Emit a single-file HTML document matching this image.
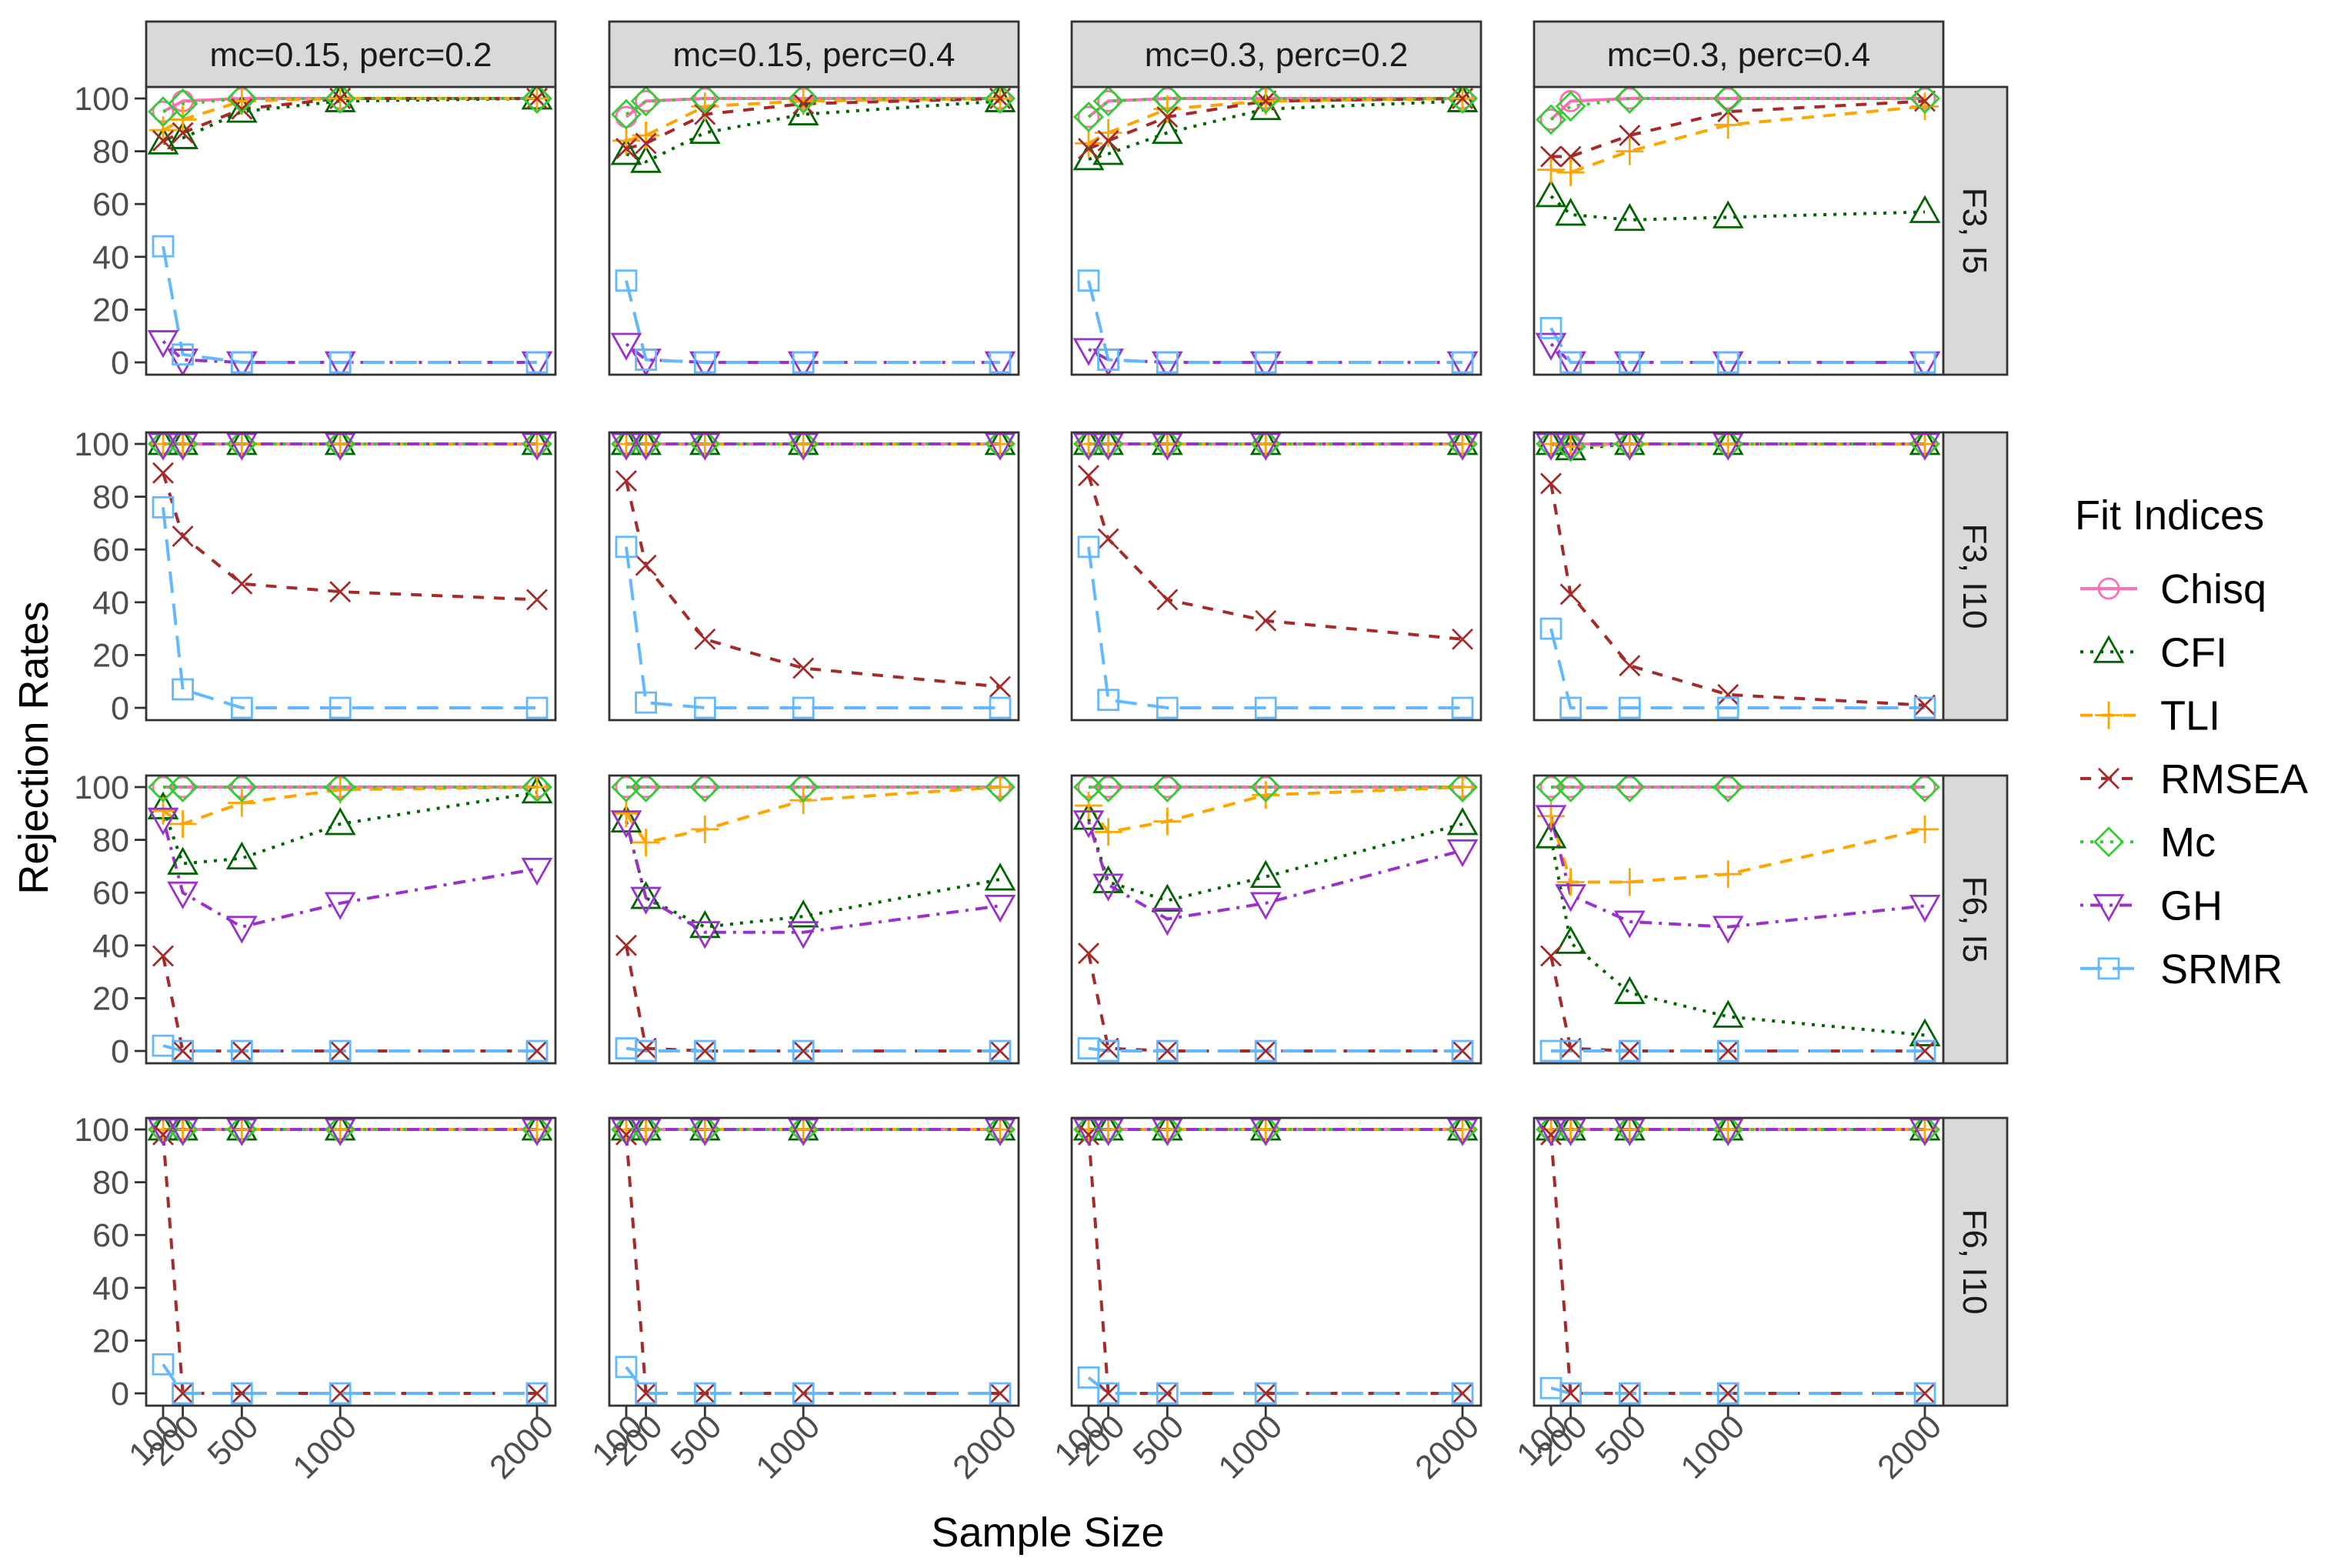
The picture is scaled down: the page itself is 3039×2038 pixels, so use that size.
<!DOCTYPE html>
<html><head><meta charset="utf-8"><style>
html,body{margin:0;padding:0;background:#fff;}
svg{display:block;font-family:"Liberation Sans",Arial,sans-serif;}
</style></head><body>
<svg id="chart" width="3039" height="2038" viewBox="0 0 3039 2038" xmlns="http://www.w3.org/2000/svg">
<g id="panels"></g>
<text x="1362" y="2010" font-size="54" text-anchor="middle" fill="#000">Sample Size</text>
<text transform="translate(62,972) rotate(-90)" font-size="54" text-anchor="middle" fill="#000">Rejection Rates</text>
<g id="legend"></g>
</svg>
<script>
const sampleSizes = [100, 200, 500, 1000, 2000];
const colLabels = ["mc=0.15, perc=0.2", "mc=0.15, perc=0.4", "mc=0.3, perc=0.2", "mc=0.3, perc=0.4"];
const rowLabels = ["F3, I5", "F3, I10", "F6, I5", "F6, I10"];
const yTicks = [0, 20, 40, 60, 80, 100];
const seriesNames = ["Chisq", "CFI", "TLI", "RMSEA", "Mc", "GH", "SRMR"];
const chisq = [
 [95,99,100,100,100],[93,99,100,100,100],[93,99,100,100,100],[92,99,100,100,100],
 [100,100,100,100,100],[100,100,100,100,100],[100,100,100,100,100],[100,100,100,100,100],
 [100,100,100,100,100],[100,100,100,100,100],[100,100,100,100,100],[100,100,100,100,100],
 [100,100,100,100,100],[100,100,100,100,100],[100,100,100,100,100],[100,100,100,100,100]];
const cfi = [
 [83,85,95,99,100],[79,76,87,94,99],[77,79,87,96,99],[63,56,54,55,57],
 [100,100,100,100,100],[100,100,100,100,100],[100,100,100,100,100],[100,98,100,100,100],
 [92,71,73,86,98],[87,58,47,51,65],[88,64,57,66,86],[81,41,22,13,6],
 [100,100,100,100,100],[100,100,100,100,100],[100,100,100,100,100],[100,100,100,100,100]];
const tli = [
 [88,92,99,100,100],[84,86,97,99,100],[83,87,96,99,100],[73,72,80,90,97],
 [100,100,100,100,100],[100,100,100,100,100],[100,100,100,100,100],[100,99,100,100,100],
 [91,86,94,99,100],[90,79,84,95,100],[93,83,87,97,100],[89,64,64,67,84],
 [100,100,100,100,100],[100,100,100,100,100],[100,100,100,100,100],[100,100,100,100,100]];
const rmsea = [
 [84,87,96,100,100],[81,83,94,98,100],[81,84,93,99,100],[78,78,86,95,99],
 [89,65,47,44,41],[86,54,26,15,8],[88,64,41,33,26],[85,43,16,5,1],
 [36,0,0,0,0],[40,1,0,0,0],[37,1,0,0,0],[36,1,0,0,0],
 [98,0,0,0,0],[98,0,0,0,0],[98,0,0,0,0],[98,0,0,0,0]];
const mc = [
 [95,98,100,100,100],[94,99,100,100,100],[93,99,100,100,100],[92,97,100,100,100],
 [100,100,100,100,100],[100,100,100,100,100],[100,100,100,100,100],[100,99,100,100,100],
 [100,100,100,100,100],[100,100,100,100,100],[100,100,100,100,100],[100,100,100,100,100],
 [100,100,100,100,100],[100,100,100,100,100],[100,100,100,100,100],[100,100,100,100,100]];
const gh = [
 [8,1,0,0,0],[7,1,0,0,0],[5,1,0,0,0],[7,0,0,0,0],
 [100,100,100,100,100],[100,100,100,100,100],[100,100,100,100,100],[100,100,100,100,100],
 [88,60,47,56,69],[87,58,45,45,55],[87,63,50,56,76],[89,59,49,47,55],
 [100,100,100,100,100],[100,100,100,100,100],[100,100,100,100,100],[100,100,100,100,100]];
const srmr = [
 [44,3,0,0,0],[31,1,0,0,0],[31,1,0,0,0],[13,0,0,0,0],
 [76,7,0,0,0],[61,2,0,0,0],[61,3,0,0,0],[30,0,0,0,0],
 [2,0,0,0,0],[1,0,0,0,0],[1,0,0,0,0],[0,0,0,0,0],
 [11,0,0,0,0],[10,0,0,0,0],[6,0,0,0,0],[2,0,0,0,0]];

const allSeries = [chisq, cfi, tli, rmsea, mc, gh, srmr];
const styles = [
 {c:"#FF6EB4", dash:"", shape:"circle"},
 {c:"#006400", dash:"4 9", shape:"tri"},
 {c:"#FFA500", dash:"16 12", shape:"plus"},
 {c:"#A52A2A", dash:"14 13", shape:"x"},
 {c:"#32CD32", dash:"4 9", shape:"diamond"},
 {c:"#9932CC", dash:"4 9 16 9", shape:"dtri"},
 {c:"#63B8FF", dash:"28 14", shape:"square"}
];
const NS = "http://www.w3.org/2000/svg";
function el(tag, attrs, parent){ const e=document.createElementNS(NS,tag); for(const k in attrs) e.setAttribute(k,attrs[k]); if(parent) parent.appendChild(e); return e; }

const PL=[190,792,1393,1994], PT=[113,562,1008,1453], PW=532, PH=374;
function xScale(n, left){ return left + 22 + (n-100)*(486/1900); }
function yScale(v, top){ return top + 358 - v*3.43; }

function marker(shape, x, y, c, g){
  const s=18, sw=2.8;
  let m;
  if(shape==="circle") m=el("circle",{cx:x,cy:y,r:13,fill:"none",stroke:c,"stroke-width":sw},g);
  else if(shape==="tri") m=el("polygon",{points:`${x},${y-19} ${x-18},${y+13} ${x+18},${y+13}`,fill:"none",stroke:c,"stroke-width":sw},g);
  else if(shape==="dtri") m=el("polygon",{points:`${x},${y+19} ${x-18},${y-13} ${x+18},${y-13}`,fill:"none",stroke:c,"stroke-width":sw},g);
  else if(shape==="plus") m=el("path",{d:`M${x-s} ${y}H${x+s}M${x} ${y-s}V${y+s}`,stroke:c,"stroke-width":sw,fill:"none"},g);
  else if(shape==="x") m=el("path",{d:`M${x-13} ${y-13}L${x+13} ${y+13}M${x-13} ${y+13}L${x+13} ${y-13}`,stroke:c,"stroke-width":sw,fill:"none"},g);
  else if(shape==="diamond") m=el("polygon",{points:`${x},${y-18} ${x+18},${y} ${x},${y+18} ${x-18},${y}`,fill:"none",stroke:c,"stroke-width":sw},g);
  else if(shape==="square") m=el("rect",{x:x-13,y:y-13,width:26,height:26,fill:"none",stroke:c,"stroke-width":sw},g);
  return m;
}

const root=document.getElementById("panels");
for(let r=0;r<4;r++){
  for(let c=0;c<4;c++){
    const L=PL[c], T=PT[r], idx=r*4+c;
    const g=el("g",{},root);
    
    
    el("rect",{x:L,y:T,width:PW,height:PH,fill:"#fff"},g);
    const clip=el("clipPath",{id:"cp"+idx},g);
    el("rect",{x:L,y:T,width:PW,height:PH},clip);
    const dg=el("g",{"clip-path":"url(#cp"+idx+")"},g);
    allSeries.forEach((ser,si)=>{
      const st=styles[si], vals=ser[idx];
      const pts=vals.map((v,i)=>xScale(sampleSizes[i],L).toFixed(1)+","+yScale(v,T).toFixed(1)).join(" ");
      const line=el("polyline",{points:pts,fill:"none",stroke:st.c,"stroke-width":4,"stroke-dasharray":st.dash},dg);
      
      
    });
    allSeries.forEach((ser,si)=>{
      const st=styles[si], vals=ser[idx];
      vals.forEach((v,i)=>{
        const m=marker(st.shape,xScale(sampleSizes[i],L),yScale(v,T),st.c,dg);
        
        
      });
    });
    el("rect",{x:L,y:T,width:PW,height:PH,fill:"none",stroke:"#333","stroke-width":2.8},g);
    if(r===0){
      const s=el("rect",{x:L,y:28,width:PW,height:T-28,fill:"#d9d9d9",stroke:"#333","stroke-width":2.8},g);
      
      
      const t=el("text",{x:L+PW/2,y:86,"font-size":44,"text-anchor":"middle",fill:"#1a1a1a"},g);
      t.textContent=colLabels[c];
      
      
    }
    if(c===3){
      const s=el("rect",{x:L+PW,y:T,width:83,height:PH,fill:"#d9d9d9",stroke:"#333","stroke-width":2.8},g);
      
      
      const t=el("text",{transform:`translate(${L+PW+26},${T+PH/2}) rotate(90)`,"font-size":44,"text-anchor":"middle",fill:"#1a1a1a"},g);
      t.textContent=rowLabels[r];
      
      
    }
    if(c===0){
      yTicks.forEach(v=>{
        const y=yScale(v,T);
        el("line",{x1:L-15,x2:L,y1:y,y2:y,stroke:"#333","stroke-width":2.8},g);
        const t=el("text",{x:L-22,y:y+15,"font-size":43,"text-anchor":"end",fill:"#4d4d4d"},g);
        t.textContent=v;
        
        
      });
    }
    if(r===3){
      sampleSizes.forEach(n=>{
        const x=xScale(n,L), yb=T+PH;
        el("line",{x1:x,x2:x,y1:yb,y2:yb+15,stroke:"#333","stroke-width":2.8},g);
        const t=el("text",{transform:`translate(${x+24},${yb+30}) rotate(-45)`,"font-size":43,"text-anchor":"end",fill:"#4d4d4d"},g);
        t.textContent=n;
        
        
      });
    }
  }
}
const lg=document.getElementById("legend");
const title=el("text",{x:2697,y:688,"font-size":54,fill:"#000"},lg);
title.textContent="Fit Indices";


seriesNames.forEach((nm,i)=>{
  const y=765+i*82.3, st=styles[i];
  const g=el("g",{},lg);
  
  
  el("line",{x1:2704,x2:2778,y1:y,y2:y,stroke:st.c,"stroke-width":4,"stroke-dasharray":st.dash},g);
  marker(st.shape,2741,y,st.c,g);
  const t=el("text",{x:2808,y:y+19,"font-size":54,fill:"#000"},g);
  t.textContent=nm;
});
</script>
</body></html>
